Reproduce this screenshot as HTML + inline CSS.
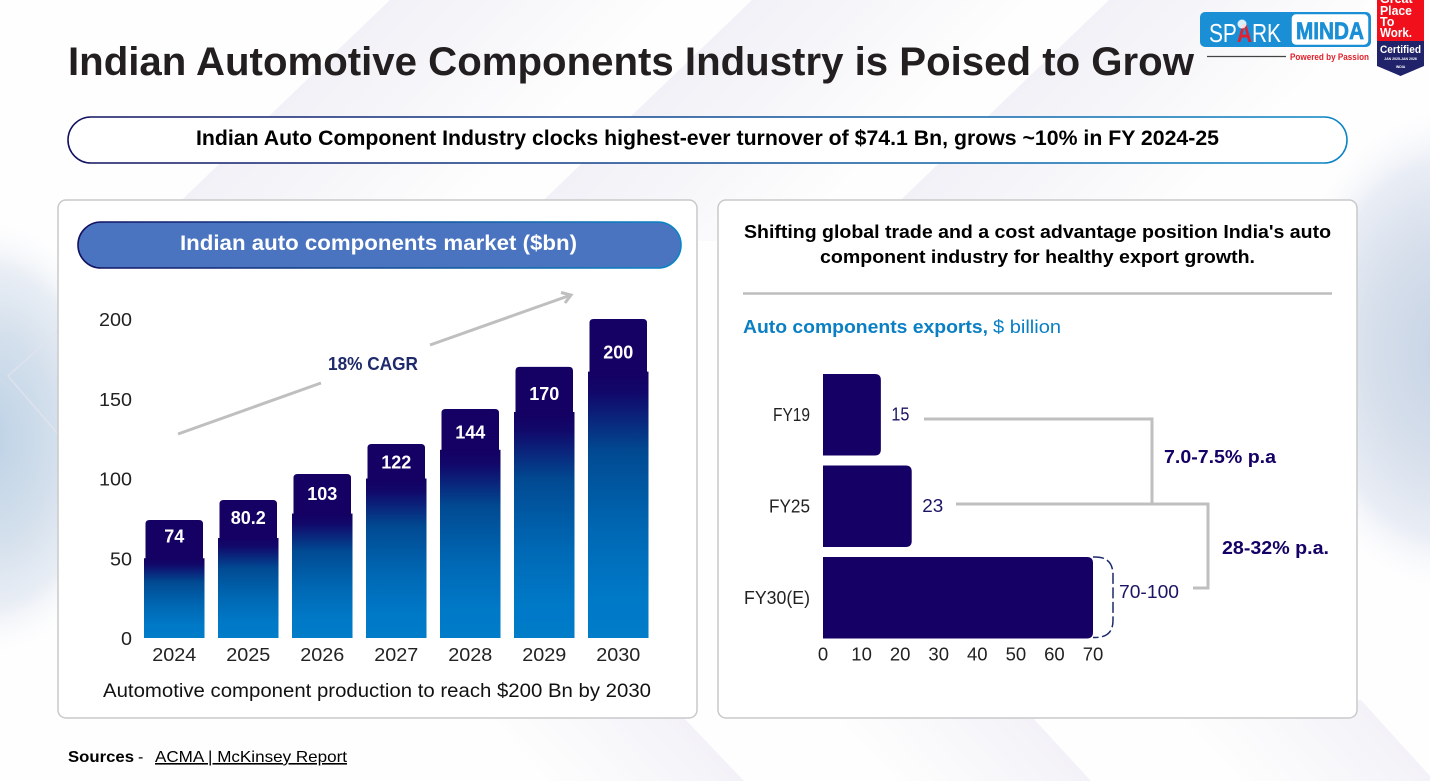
<!DOCTYPE html>
<html lang="en">
<head>
<meta charset="utf-8">
<title>Indian Automotive Components Industry</title>
<style>
html,body{margin:0;padding:0;background:#fff;width:1430px;height:781px;overflow:hidden}
svg{display:block;font-family:"Liberation Sans",sans-serif}
</style>
</head>
<body>
<svg id="slide" width="1430" height="781" viewBox="0 0 1430 781" xmlns="http://www.w3.org/2000/svg">
<defs>
<linearGradient id="barGrad" x1="0" y1="0" x2="0" y2="1">
<stop offset="0" stop-color="#140062"/>
<stop offset="0.08" stop-color="#11086a"/>
<stop offset="0.3" stop-color="#014a92"/>
<stop offset="0.6" stop-color="#0068b4"/>
<stop offset="0.85" stop-color="#0079c7"/>
<stop offset="1" stop-color="#007cc9"/>
</linearGradient>
<linearGradient id="pillStroke" x1="0" y1="0" x2="1" y2="0">
<stop offset="0" stop-color="#13105f"/>
<stop offset="1" stop-color="#0a85c6"/>
</linearGradient>
<radialGradient id="leftGlow" cx="0.5" cy="0.5" r="0.5">
<stop offset="0" stop-color="#bdd2e5"/>
<stop offset="0.45" stop-color="#d3dfec"/>
<stop offset="0.75" stop-color="#e9eef5"/>
<stop offset="1" stop-color="#ffffff" stop-opacity="0"/>
</radialGradient>
<radialGradient id="rightGlow" cx="0.5" cy="0.5" r="0.5">
<stop offset="0" stop-color="#c6d3e5"/>
<stop offset="0.45" stop-color="#d6dfeb"/>
<stop offset="0.75" stop-color="#e9edf5"/>
<stop offset="1" stop-color="#ffffff" stop-opacity="0"/>
</radialGradient>
<linearGradient id="band1" gradientUnits="userSpaceOnUse" x1="390" y1="0" x2="530" y2="144"><stop offset="0" stop-color="#f1f1f7"/><stop offset="1" stop-color="#f1f1f7" stop-opacity="0"/></linearGradient>
<linearGradient id="band2" gradientUnits="userSpaceOnUse" x1="752" y1="0" x2="892" y2="144"><stop offset="0" stop-color="#f1f1f7"/><stop offset="1" stop-color="#f1f1f7" stop-opacity="0"/></linearGradient>
<linearGradient id="band3" gradientUnits="userSpaceOnUse" x1="1109" y1="0" x2="1249" y2="144"><stop offset="0" stop-color="#f1f1f7"/><stop offset="1" stop-color="#f1f1f7" stop-opacity="0"/></linearGradient>
<linearGradient id="band4" gradientUnits="userSpaceOnUse" x1="700" y1="735" x2="590" y2="836"><stop offset="0" stop-color="#f3f2f8"/><stop offset="1" stop-color="#f3f2f8" stop-opacity="0"/></linearGradient>
<linearGradient id="band5" gradientUnits="userSpaceOnUse" x1="1033" y1="718" x2="923" y2="819"><stop offset="0" stop-color="#f3f2f8"/><stop offset="1" stop-color="#f3f2f8" stop-opacity="0"/></linearGradient>
<linearGradient id="band6" gradientUnits="userSpaceOnUse" x1="1361" y1="700" x2="1251" y2="801"><stop offset="0" stop-color="#f3f2f8"/><stop offset="1" stop-color="#f3f2f8" stop-opacity="0"/></linearGradient>
</defs>

<g>
<rect width="1430" height="781" fill="#fefefe"/>
<ellipse cx="-10" cy="438" rx="145" ry="225" fill="url(#leftGlow)"/>
<ellipse cx="1450" cy="350" rx="175" ry="250" fill="url(#rightGlow)"/>
<polygon points="390,0 710,0 459,241 139,241" fill="url(#band1)"/>
<polygon points="752,0 1072,0 821,241 501,241" fill="url(#band2)"/>
<polygon points="1109,0 1370,0 1178,241 858,241" fill="url(#band3)"/>
<polygon points="684,718 744,781 540,781 480,718" fill="url(#band4)"/>
<polygon points="1033,718 1091,781 860,781 800,718" fill="url(#band5)"/>
<polygon points="1361,700 1430,776 1430,781 1200,781 1140,700" fill="url(#band6)"/>
<polyline points="58,331 8,376 58,434" fill="none" stroke="#e2e3ee" stroke-width="1.5" opacity="0.8"/>
</g>

<text x="68" y="75" font-size="40" font-weight="700" fill="#231f20" textLength="1126" lengthAdjust="spacingAndGlyphs">Indian Automotive Components Industry is Poised to Grow</text>

<g>
<rect x="1200" y="12" width="171" height="35" rx="5" fill="#1a8fd6"/>
<text x="1209" y="42" font-size="26" fill="#fff" textLength="72" lengthAdjust="spacingAndGlyphs">SP<tspan fill="#e4202c" font-weight="700">A</tspan>RK</text>
<circle cx="1242" cy="24" r="4.5" fill="#fff" opacity="0.85"/>
<rect x="1291" y="13.5" width="78" height="32" rx="5" fill="#fff" stroke="#1a8fd6" stroke-width="1.5"/>
<text x="1296" y="39" font-size="24" font-weight="700" fill="#1a8fd6" stroke="#1a8fd6" stroke-width="0.7" textLength="68" lengthAdjust="spacingAndGlyphs">MINDA</text>
<line x1="1207" y1="56.5" x2="1286" y2="56.5" stroke="#444" stroke-width="1.2"/>
<text x="1290" y="60" font-size="9" font-weight="700" fill="#e0202a" textLength="79" lengthAdjust="spacingAndGlyphs">Powered by Passion</text>
</g>

<g>
<rect x="1377" y="0" width="47" height="41" fill="#f00f1a"/>
<polygon points="1377,41 1424,41 1424,66 1400.5,76 1377,66" fill="#20226a"/>
<text x="1380" y="3" font-size="12.5" font-weight="700" fill="#fff">Great</text>
<text x="1380" y="15" font-size="12.5" font-weight="700" fill="#fff" textLength="32" lengthAdjust="spacingAndGlyphs">Place</text>
<text x="1380" y="26" font-size="12.5" font-weight="700" fill="#fff">To</text>
<text x="1380" y="37" font-size="12.5" font-weight="700" fill="#fff" textLength="32" lengthAdjust="spacingAndGlyphs">Work.</text>
<text x="1380" y="53" font-size="11" font-weight="700" fill="#fff" textLength="41" lengthAdjust="spacingAndGlyphs">Certified</text>
<text x="1400.5" y="60" font-size="3.5" font-weight="700" fill="#fff" text-anchor="middle">JAN 2025-JAN 2026</text>
<text x="1400.5" y="68" font-size="3.5" font-weight="700" fill="#fff" text-anchor="middle">INDIA</text>
</g>

<g>
<rect x="68" y="117" width="1279" height="46" rx="23" fill="#fff" stroke="url(#pillStroke)" stroke-width="1.6"/>
<text x="196" y="145" font-size="21" font-weight="700" fill="#000" textLength="1023" lengthAdjust="spacingAndGlyphs">Indian Auto Component Industry clocks highest-ever turnover of $74.1 Bn, grows ~10% in FY 2024-25</text>
</g>

<rect x="58" y="200" width="639" height="518" rx="8" fill="#fff" stroke="#c9c9c9" stroke-width="1.5"/>
<rect x="718" y="200" width="639" height="518" rx="8" fill="#fff" stroke="#c9c9c9" stroke-width="1.5"/>

<g>
<rect x="78" y="222" width="603" height="46" rx="23" fill="#4a74bf" stroke="url(#pillStroke)" stroke-width="1.6"/>
<text x="180" y="250" font-size="21" font-weight="700" fill="#fff" textLength="397" lengthAdjust="spacingAndGlyphs">Indian auto components market ($bn)</text>
</g>

<g id="marketChart"></g>

<g>
<line x1="178" y1="434" x2="321" y2="383" stroke="#bfbfbf" stroke-width="3"/>
<line x1="430" y1="345" x2="571" y2="295" stroke="#bfbfbf" stroke-width="3"/>
<polyline points="561,292.5 571,295 565,303" fill="none" stroke="#bfbfbf" stroke-width="3"/>
<text x="328" y="370" font-size="18" font-weight="700" fill="#1f2a6b" textLength="90" lengthAdjust="spacingAndGlyphs">18% CAGR</text>
</g>

<text x="103" y="697" font-size="19" fill="#111" textLength="548" lengthAdjust="spacingAndGlyphs">Automotive component production to reach $200 Bn by 2030</text>

<g>
<text x="744" y="238" font-size="18.5" font-weight="700" fill="#000" textLength="587" lengthAdjust="spacingAndGlyphs">Shifting global trade and a cost advantage position India's auto</text>
<text x="820" y="263" font-size="18.5" font-weight="700" fill="#000" textLength="435" lengthAdjust="spacingAndGlyphs">component industry for healthy export growth.</text>
<line x1="743" y1="293.5" x2="1332" y2="293.5" stroke="#bdbdbd" stroke-width="2.5"/>
<text x="743" y="333" font-size="18" font-weight="700" fill="#0a7fc4" textLength="245" lengthAdjust="spacingAndGlyphs">Auto components exports,</text>
<text x="993" y="333" font-size="18" fill="#0a7fc4" textLength="68" lengthAdjust="spacingAndGlyphs">$ billion</text>
</g>

<g id="exportsChart"></g>

<g>
<polyline points="924,419 1152,419 1152,503" fill="none" stroke="#bfbfbf" stroke-width="3"/>
<polyline points="956,504 1208,504 1208,588 1193,588" fill="none" stroke="#bfbfbf" stroke-width="3"/>
<text x="1164" y="463" font-size="18" font-weight="700" fill="#150065" textLength="112" lengthAdjust="spacingAndGlyphs">7.0-7.5% p.a</text>
<text x="1222" y="554" font-size="18" font-weight="700" fill="#150065" textLength="107" lengthAdjust="spacingAndGlyphs">28-32% p.a.</text>
</g>

<g>
<text x="68" y="762" font-size="16" font-weight="700" fill="#000" textLength="66" lengthAdjust="spacingAndGlyphs">Sources</text>
<text x="138" y="762" font-size="16" fill="#000">-</text>
<text x="155" y="762" font-size="16" fill="#000" text-decoration="underline" textLength="192" lengthAdjust="spacingAndGlyphs">ACMA | McKinsey Report</text>
</g>
</svg>

<script>
// Market chart data
const marketYears = ['2024','2025','2026','2027','2028','2029','2030'];
const marketTotals = [74,86.5,102.8,121.6,143.6,170,200];
const marketBase = [50,62.7,78,100,118,141.7,167];
const marketLabels = ['74','80.2','103','122','144','170','200'];
const marketTicks = [0,50,100,150,200];

// Exports chart data
const exportCategories = ['FY19','FY25','FY30(E)'];
const exportValues = [15,23,70];
const exportLabels = ['15','23','70-100'];
const exportTicks = [0,10,20,30,40,50,60,70];

const NS = 'http://www.w3.org/2000/svg';
function mk(tag, parent, attrs){
  const el = document.createElementNS(NS, tag);
  for (const k in attrs) el.setAttribute(k, attrs[k]);
  parent.appendChild(el);
  return el;
}

// Market chart axes
const marketY = v => 638 - v * (638 - 319) / 200;
const marketX = i => 144 + i * 74;
const marketBarW = 60.5;
const marketG = document.getElementById('marketChart');

marketTicks.forEach(t => {
  const label = mk('text', marketG, {x:132, y:marketY(t)+7, 'font-size':18.5, fill:'#222', 'text-anchor':'end', textLength:String(t).length*11, lengthAdjust:'spacingAndGlyphs'});
  
  
  label.textContent = t;
});

marketYears.forEach((year, i) => {
  const x = marketX(i);
  const top = marketY(marketTotals[i]);
  const baseTop = marketY(marketBase[i]);
  const capX = x + 1.5, capW = marketBarW - 3, r = 4;
  const cap = mk('path', marketG, {
    d:`M${capX} ${baseTop+12} V${top+r} Q${capX} ${top} ${capX+r} ${top} H${capX+capW-r} Q${capX+capW} ${top} ${capX+capW} ${top+r} V${baseTop+12} Z`,
    fill:'#150063'
  });
  
  

  const bar = mk('rect', marketG, {x:x, y:baseTop, width:marketBarW, height:marketY(0)-baseTop, fill:'url(#barGrad)'});
  
  

  const labelFrac = 0.42 + 0.035 * i;
  const value = mk('text', marketG, {x:x+marketBarW/2, y:top+(baseTop-top)*labelFrac+6.5, 'font-size':18, 'font-weight':700, fill:'#fff', 'text-anchor':'middle'});
  
  
  value.textContent = marketLabels[i];

  const xl = mk('text', marketG, {x:x+marketBarW/2, y:661, 'font-size':18.5, fill:'#222', 'text-anchor':'middle', textLength:44, lengthAdjust:'spacingAndGlyphs'});
  
  
  xl.textContent = year;
});

// Exports chart axes
const exportX = v => 823 + v * (1093 - 823) / 70;
const exportY = i => 374 + i * 91.5;
const exportBarH = 81.5;
const exportG = document.getElementById('exportsChart');

exportTicks.forEach(t => {
  const label = mk('text', exportG, {x:exportX(t), y:660.5, 'font-size':18.5, fill:'#222', 'text-anchor':'middle'});
  
  
  label.textContent = t;
});

exportCategories.forEach((cat, i) => {
  const y = exportY(i);
  const x0 = exportX(0), x1 = exportX(exportValues[i]), r = 6;
  const bar = mk('path', exportG, {
    d:`M${x0} ${y} H${x1-r} Q${x1} ${y} ${x1} ${y+r} V${y+exportBarH-r} Q${x1} ${y+exportBarH} ${x1-r} ${y+exportBarH} H${x0} Z`,
    fill:'#150065'
  });
  
  

  const catLabel = mk('text', exportG, {x:810, y:y+exportBarH/2+6, 'font-size':18.5, fill:'#222', 'text-anchor':'end', textLength:cat.length>4?66:(i===0?37:41), lengthAdjust:'spacingAndGlyphs'});
  
  
  catLabel.textContent = cat;

  const gap = i === 2 ? 26 : 10.5;
  const val = mk('text', exportG, {x:x1+gap, y:i===2 ? y+exportBarH/2 : y+exportBarH/2+5.5, 'font-size':18.5, fill:'#1b1464', textLength:exportLabels[i].length>2?60:(i===0?18:21), lengthAdjust:'spacingAndGlyphs'});
  
  
  val.textContent = exportLabels[i];
});

// Range bracket at the end of the last bar
const lastIndex = exportValues.length - 1;
const bx = exportX(exportValues[lastIndex]);
const by = exportY(lastIndex);
const bracket = mk('path', exportG, {
  d:`M${bx} ${by} H${bx+2} Q${bx+20} ${by} ${bx+20} ${by+18} V${by+exportBarH-18} Q${bx+20} ${by+exportBarH-1} ${bx+2} ${by+exportBarH-1} H${bx}`,
  fill:'none', stroke:'#1b2a6b', 'stroke-width':1.5, 'stroke-dasharray':'11 3.5'
});


</script>
</body>
</html>
